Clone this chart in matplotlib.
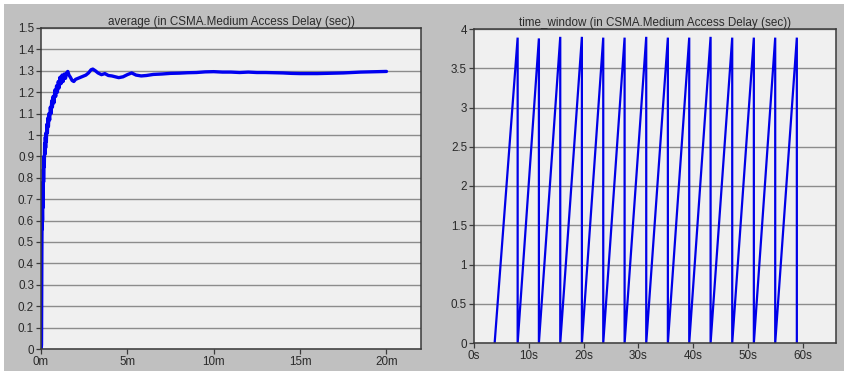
import matplotlib
matplotlib.use("Agg")
import matplotlib.pyplot as plt
from matplotlib.patches import Rectangle

# Running average of CSMA medium access delay (sec) vs. simulation time (minutes)
avg_time_min = [0.01, 0.03, 0.05, 0.06, 0.07, 0.08, 0.09, 0.10, 0.11, 0.12,
                0.13, 0.14, 0.15, 0.17, 0.19, 0.21, 0.23, 0.25, 0.27, 0.29,
                0.31, 0.34, 0.37, 0.40, 0.43, 0.46, 0.50, 0.54, 0.58, 0.62,
                0.66, 0.70, 0.75, 0.80, 0.85, 0.90, 0.95, 1.00, 1.05, 1.10,
                1.16, 1.22, 1.28, 1.35, 1.42, 1.48, 1.55, 1.62, 1.70, 1.80,
                1.90, 2.00, 2.15, 2.30, 2.45, 2.60, 2.75, 2.90, 3.00, 3.15,
                3.30, 3.50, 3.70, 3.90, 4.10, 4.30, 4.50, 4.75, 5.00, 5.25,
                5.50, 5.80, 6.10, 6.50, 7.00, 7.50, 8.00, 8.50, 9.00, 9.50,
                10.0, 10.5, 11.0, 11.5, 12.0, 12.5, 13.0, 13.5, 14.0, 14.5,
                15.0, 15.5, 16.0, 16.5, 17.0, 17.5, 18.0, 18.5, 19.0, 19.5,
                20.0]
avg_delay = [0.0, 0.02, 0.45, 0.60, 0.56, 0.66, 0.60, 0.72, 0.66, 0.78,
             0.72, 0.84, 0.78, 0.90, 0.85, 0.96, 0.91, 0.99, 0.94, 1.01,
             0.97, 1.05, 1.01, 1.08, 1.04, 1.10, 1.07, 1.13, 1.10, 1.16,
             1.13, 1.18, 1.15, 1.21, 1.18, 1.23, 1.20, 1.25, 1.22, 1.27,
             1.24, 1.28, 1.25, 1.285, 1.265, 1.29, 1.297, 1.28, 1.27, 1.255,
             1.25, 1.26, 1.265, 1.27, 1.275, 1.28, 1.29, 1.305, 1.308, 1.30,
             1.29, 1.282, 1.287, 1.278, 1.276, 1.272, 1.268, 1.272, 1.282, 1.29,
             1.28, 1.276, 1.278, 1.283, 1.285, 1.288, 1.289, 1.291, 1.292, 1.295,
             1.296, 1.294, 1.294, 1.292, 1.294, 1.292, 1.292, 1.291, 1.290, 1.288,
             1.287, 1.287, 1.287, 1.288, 1.289, 1.290, 1.292, 1.294, 1.295, 1.296,
             1.297]

# Time-windowed delay (sec) vs. simulation time (seconds): sawtooth per window
win_time_s = [3.77, 7.97, 7.97, 11.85, 11.85, 15.75, 15.75, 19.70, 19.70,
              23.60, 23.60, 27.50, 27.50, 31.45, 31.45, 35.40, 35.40, 39.30,
              39.30, 43.20, 43.20, 47.15, 47.15, 51.10, 51.10, 55.00, 55.00,
              58.95, 58.95]
win_delay = [0.0, 3.89, 0.0, 3.88, 0.0, 3.90, 0.0, 3.90, 0.0,
             3.89, 0.0, 3.89, 0.0, 3.90, 0.0, 3.89, 0.0, 3.89,
             0.0, 3.90, 0.0, 3.89, 0.0, 3.89, 0.0, 3.89, 0.0,
             3.89, 0.0]

avg_yticks = [0, 0.1, 0.2, 0.3, 0.4, 0.5, 0.6, 0.7, 0.8, 0.9, 1.0,
              1.1, 1.2, 1.3, 1.4, 1.5]
avg_yticklabels = ["0", "0.1", "0.2", "0.3", "0.4", "0.5", "0.6", "0.7",
                   "0.8", "0.9", "1", "1.1", "1.2", "1.3", "1.4", "1.5"]
avg_xticks = [0, 5, 10, 15, 20]
avg_xticklabels = ["0m", "5m", "10m", "15m", "20m"]

win_yticks = [0, 0.5, 1.0, 1.5, 2.0, 2.5, 3.0, 3.5, 4.0]
win_yticklabels = ["0", "0.5", "1", "1.5", "2", "2.5", "3", "3.5", "4"]
win_xticks = [0, 10, 20, 30, 40, 50, 60]
win_xticklabels = ["0s", "10s", "20s", "30s", "40s", "50s", "60s"]

plt.rcParams["font.family"] = ["Liberation Sans", "DejaVu Sans"]

W, H = 848, 374
fig = plt.figure(figsize=(W / 100, H / 100), dpi=100, facecolor="white")

# Gray panel behind both charts
panel = Rectangle((4 / W, 3 / H), 840 / W, 367 / H,
                  transform=fig.transFigure, facecolor="#c0c0c0",
                  edgecolor="none")
panel.set_zorder(-10)
fig.add_artist(panel)

TEXT = "#2a2a2a"
FS = 8.4


def style_axes(ax, yticks, yticklabels, xticks, xticklabels, title):
    ax.set_facecolor("#f0f0f0")
    ax.set_yticks(yticks)
    ax.set_yticklabels(yticklabels)
    ax.set_xticks(xticks)
    ax.set_xticklabels(xticklabels)
    ax.grid(axis="y", color="#8c8c8c", linewidth=1.0)
    ax.set_axisbelow(True)
    for s in ax.spines.values():
        s.set_color("#3a3a3a")
        s.set_linewidth(1.1)
    ax.tick_params(axis="both", direction="out", length=3.5, width=0.9,
                   color="#3a3a3a", labelcolor=TEXT, labelsize=FS, pad=1.5)
    ax.set_title(title, fontsize=FS, color=TEXT, pad=2.5)


ax1 = fig.add_axes([41 / W, (H - 349) / H, 380 / W, 321 / H])
ax1.plot(avg_time_min, avg_delay, color="#0000f0", linewidth=2.4,
         solid_joinstyle="round", solid_capstyle="round")
ax1.set_xlim(0, 22)
ax1.set_ylim(0, 1.5)
style_axes(ax1, avg_yticks, avg_yticklabels, avg_xticks, avg_xticklabels,
           "average (in CSMA.Medium Access Delay (sec))")

ax2 = fig.add_axes([474 / W, (H - 343) / H, 362 / W, 314 / H])
ax2.plot(win_time_s, win_delay, color="#0000e8", linewidth=1.6,
         solid_joinstyle="miter")
ax2.set_xlim(0, 66.1)
ax2.set_ylim(0, 4)
style_axes(ax2, win_yticks, win_yticklabels, win_xticks, win_xticklabels,
           "time_window (in CSMA.Medium Access Delay (sec))")

fig.savefig("out.png", dpi=100, facecolor="white")
